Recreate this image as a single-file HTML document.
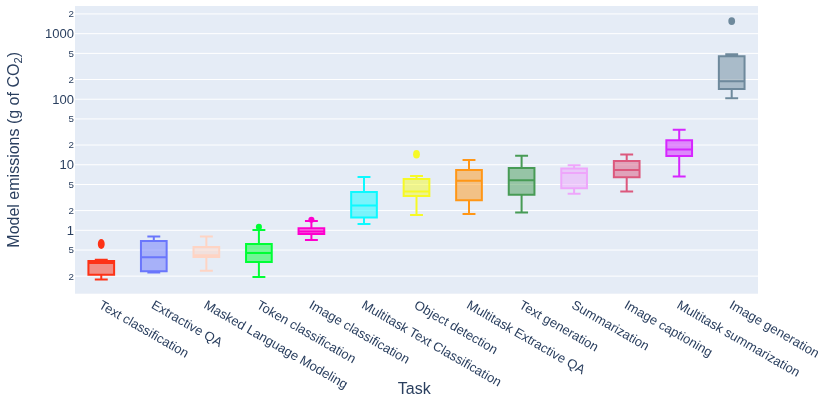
<!DOCTYPE html><html><head><meta charset="utf-8"><title>Task emissions</title><style>html,body{margin:0;padding:0;background:#fff}svg{display:block}text{font-family:"Liberation Sans",Arial,sans-serif;fill:#2a3f5f}</style></head><body>
<svg width="838" height="407" viewBox="0 0 838 407">
<rect x="0" y="0" width="838" height="407" fill="#fff"/>
<rect x="75" y="6" width="683" height="287.7" fill="#E5ECF6"/>
<g stroke="#fff" stroke-width="1">
<path d="M75,276.13H758"/>
<path d="M75,250.04H758"/>
<path d="M75,230.31H758"/>
<path d="M75,210.58H758"/>
<path d="M75,184.49H758"/>
<path d="M75,164.76H758"/>
<path d="M75,145.03H758"/>
<path d="M75,118.94H758"/>
<path d="M75,99.21H758"/>
<path d="M75,79.48H758"/>
<path d="M75,53.39H758"/>
<path d="M75,33.66H758"/>
<path d="M75,13.93H758"/>
</g>
<path d="M88.42,262.95H114.12M88.42,274.85H114.12V260.9H88.42ZM101.27,274.85V279.6M101.27,260.9V259.8M94.82,279.6H107.72M94.82,259.8H107.72" fill="#FD3216" fill-opacity="0.5" stroke="#FD3216" stroke-width="2"/>
<ellipse cx="101.27" cy="244" rx="3.45" ry="5.0" fill="#FD3216"/>
<path d="M140.95,257.2H166.65M140.95,271.2H166.65V241.0H140.95ZM153.8,271.2V272.5M153.8,241.0V236.4M147.35,272.5H160.25M147.35,236.4H160.25" fill="#6A76FC" fill-opacity="0.5" stroke="#6A76FC" stroke-width="2"/>
<path d="M193.50,255.3H219.20M193.50,257.05H219.20V247.1H193.50ZM206.35,257.05V270.7M206.35,247.1V236.5M199.90,270.7H212.80M199.90,236.5H212.80" fill="#FED4C4" fill-opacity="0.5" stroke="#FED4C4" stroke-width="2"/>
<path d="M246.05,253.0H271.75M246.05,262.1H271.75V244.0H246.05ZM258.9,262.1V276.9M258.9,244.0V230.0M252.45,276.9H265.35M252.45,230.0H265.35" fill="#00FE35" fill-opacity="0.5" stroke="#00FE35" stroke-width="2"/>
<ellipse cx="258.9" cy="226.9" rx="3.05" ry="3.05" fill="#00FE35"/>
<path d="M298.55,231.4H324.25M298.55,234.0H324.25V228.2H298.55ZM311.4,234.0V239.9M311.4,228.2V220.9M304.95,239.9H317.85M304.95,220.9H317.85" fill="#FE00CE" fill-opacity="0.5" stroke="#FE00CE" stroke-width="2"/>
<ellipse cx="311.4" cy="219.8" rx="3.05" ry="3.05" fill="#FE00CE"/>
<path d="M351.15,205.6H376.85M351.15,217.5H376.85V192.0H351.15ZM364.0,217.5V224.0M364.0,192.0V176.9M357.55,224.0H370.45M357.55,176.9H370.45" fill="#0DF9FF" fill-opacity="0.5" stroke="#0DF9FF" stroke-width="2"/>
<path d="M403.65,191.6H429.35M403.65,196.0H429.35V178.9H403.65ZM416.5,196.0V214.9M416.5,178.9V176.0M410.05,214.9H422.95M410.05,176.0H422.95" fill="#F6F926" fill-opacity="0.5" stroke="#F6F926" stroke-width="2"/>
<ellipse cx="416.5" cy="154.3" rx="3.4" ry="4.3" fill="#F6F926"/>
<path d="M456.15,180.7H481.85M456.15,200.3H481.85V169.9H456.15ZM469.0,200.3V214.1M469.0,169.9V160.0M462.55,214.1H475.45M462.55,160.0H475.45" fill="#FF9616" fill-opacity="0.5" stroke="#FF9616" stroke-width="2"/>
<path d="M508.75,180.3H534.45M508.75,194.8H534.45V168.1H508.75ZM521.6,194.8V212.4M521.6,168.1V155.7M515.15,212.4H528.05M515.15,155.7H528.05" fill="#479B55" fill-opacity="0.5" stroke="#479B55" stroke-width="2"/>
<path d="M561.25,173.1H586.95M561.25,188.35H586.95V168.6H561.25ZM574.1,188.35V193.7M574.1,168.6V165.2M567.65,193.7H580.55M567.65,165.2H580.55" fill="#EEA6FB" fill-opacity="0.5" stroke="#EEA6FB" stroke-width="2"/>
<path d="M613.85,170.1H639.55M613.85,177.2H639.55V160.9H613.85ZM626.7,177.2V191.5M626.7,160.9V154.4M620.25,191.5H633.15M620.25,154.4H633.15" fill="#DC587D" fill-opacity="0.5" stroke="#DC587D" stroke-width="2"/>
<path d="M666.35,149.5H692.05M666.35,155.9H692.05V140.3H666.35ZM679.2,155.9V176.4M679.2,140.3V129.8M672.75,176.4H685.65M672.75,129.8H685.65" fill="#D626FF" fill-opacity="0.5" stroke="#D626FF" stroke-width="2"/>
<path d="M718.85,81.3H744.55M718.85,89.1H744.55V56.3H718.85ZM731.7,89.1V98.2M731.7,56.3V54.2M725.25,98.2H738.15M725.25,54.2H738.15" fill="#6E899C" fill-opacity="0.5" stroke="#6E899C" stroke-width="2"/>
<ellipse cx="731.7" cy="21.05" rx="3.4" ry="3.9" fill="#6E899C"/>
<text x="74" y="279.54" text-anchor="end" font-size="9.75">2</text>
<text x="74" y="253.46" text-anchor="end" font-size="9.75">5</text>
<text x="74" y="234.86" text-anchor="end" font-size="13">1</text>
<text x="74" y="213.99" text-anchor="end" font-size="9.75">2</text>
<text x="74" y="187.91" text-anchor="end" font-size="9.75">5</text>
<text x="74" y="169.31" text-anchor="end" font-size="13">10</text>
<text x="74" y="148.44" text-anchor="end" font-size="9.75">2</text>
<text x="74" y="122.36" text-anchor="end" font-size="9.75">5</text>
<text x="74" y="103.76" text-anchor="end" font-size="13">100</text>
<text x="74" y="82.89" text-anchor="end" font-size="9.75">2</text>
<text x="74" y="56.81" text-anchor="end" font-size="9.75">5</text>
<text x="74" y="38.21" text-anchor="end" font-size="13">1000</text>
<text x="74" y="17.34" text-anchor="end" font-size="9.75">2</text>
<text x="101.27" y="308.40" font-size="13" transform="rotate(30,101.27,301.90)">Text classification</text>
<text x="153.8" y="308.40" font-size="13" transform="rotate(30,153.8,301.90)">Extractive QA</text>
<text x="206.35" y="308.40" font-size="13" transform="rotate(30,206.35,301.90)">Masked Language Modeling</text>
<text x="258.9" y="308.40" font-size="13" transform="rotate(30,258.9,301.90)">Token classification</text>
<text x="311.4" y="308.40" font-size="13" transform="rotate(30,311.4,301.90)">Image classification</text>
<text x="364.0" y="308.40" font-size="13" transform="rotate(30,364.0,301.90)">Multitask Text Classification</text>
<text x="416.5" y="308.40" font-size="13" transform="rotate(30,416.5,301.90)">Object detection</text>
<text x="469.0" y="308.40" font-size="13" transform="rotate(30,469.0,301.90)">Multitask Extractive QA</text>
<text x="521.6" y="308.40" font-size="13" transform="rotate(30,521.6,301.90)">Text generation</text>
<text x="574.1" y="308.40" font-size="13" transform="rotate(30,574.1,301.90)">Summarization</text>
<text x="626.7" y="308.40" font-size="13" transform="rotate(30,626.7,301.90)">Image captioning</text>
<text x="679.2" y="308.40" font-size="13" transform="rotate(30,679.2,301.90)">Multitask summarization</text>
<text x="731.7" y="308.40" font-size="13" transform="rotate(30,731.7,301.90)">Image generation</text>
<text x="414.3" y="393.7" text-anchor="middle" font-size="16">Task</text>
<text x="19" y="149.85" text-anchor="middle" font-size="16" transform="rotate(-90,19,149.85)">Model emissions (g of CO<tspan font-size="11.2" dy="3.36">2</tspan><tspan dy="-3.36">)</tspan></text>
</svg></body></html>
